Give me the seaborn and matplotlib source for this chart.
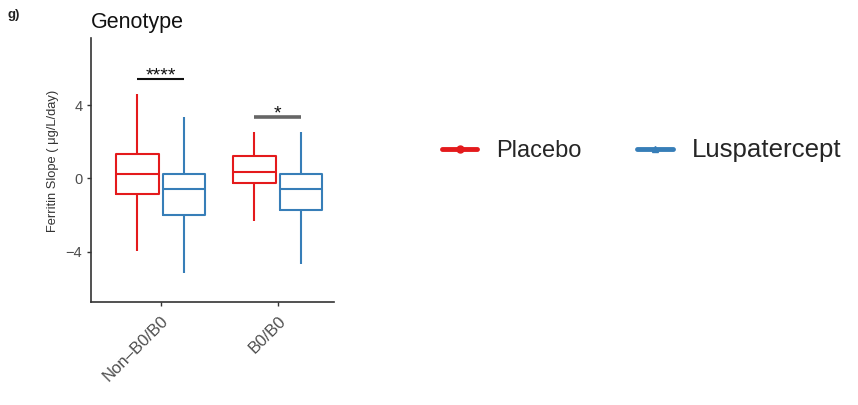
import numpy as np
import pandas as pd
import matplotlib
matplotlib.use("Agg")
import matplotlib.pyplot as plt
from matplotlib.lines import Line2D
import seaborn as sns

# Five-number summaries (whisker low, Q1, median, Q3, whisker high) of ferritin slope
genotypes = ["Non\u2013B0/B0", "B0/B0"]
treatments = ["Placebo", "Luspatercept"]

placebo_low = [-3.95, -2.31]
placebo_q1 = [-0.87, -0.24]
placebo_median = [0.23, 0.33]
placebo_q3 = [1.31, 1.22]
placebo_high = [4.58, 2.51]

lusp_low = [-5.18, -4.68]
lusp_q1 = [-2.02, -1.73]
lusp_median = [-0.58, -0.58]
lusp_q3 = [0.23, 0.25]
lusp_high = [3.36, 2.51]

# significance brackets: label, bracket height
sig_labels = ["****", "*"]
sig_heights = [5.44, 3.34]

y_ticks = [-4, 0, 4]

colors = {"Placebo": "#E41A1C", "Luspatercept": "#377EB8"}

rows = []
summaries = {
    "Placebo": [placebo_low, placebo_q1, placebo_median, placebo_q3, placebo_high],
    "Luspatercept": [lusp_low, lusp_q1, lusp_median, lusp_q3, lusp_high],
}
for trt in treatments:
    for gi, g in enumerate(genotypes):
        for stat in summaries[trt]:
            rows.append({"genotype": g, "treatment": trt, "slope": stat[gi]})
df = pd.DataFrame(rows)

sns.set_theme(style="white")
plt.rcParams["font.family"] = ["Liberation Sans", "DejaVu Sans"]

fig = plt.figure(figsize=(8.58, 4.05), dpi=100)
ax = fig.add_axes([0.1057, 0.2536, 0.2836, 0.6518])

sns.boxplot(
    data=df, x="genotype", y="slope", hue="treatment",
    order=genotypes, hue_order=treatments, palette=colors,
    fill=False, width=0.8, gap=0.1, whis=(0, 100),
    showcaps=False, linewidth=1.5, legend=False, ax=ax,
)

# significance brackets
sig_colors = ["#111111", "#666666"]
sig_widths = [1.5, 2.6]
for gi, (lab, h) in enumerate(zip(sig_labels, sig_heights)):
    ax.plot([gi - 0.2, gi + 0.2], [h, h], color=sig_colors[gi],
            lw=sig_widths[gi], solid_capstyle="butt")
    ax.text(gi, h - 0.08, lab, ha="center", va="baseline",
            fontsize=14, color="#111111")

ax.set_xlim(-0.6, 1.48)
ax.set_ylim(-6.76, 7.64)
ax.set_yticks(y_ticks)
ax.set_yticklabels([f"{t:d}".replace("-", "\u2212") for t in y_ticks])
ax.set_xlabel("")
ax.set_ylabel("Ferritin Slope ( \u03bcg/L/day)", fontsize=9.3, color="#333333")
ax.yaxis.set_label_coords(-0.13, 0.535)

for side in ["top", "right"]:
    ax.spines[side].set_visible(False)
for side in ["left", "bottom"]:
    ax.spines[side].set_color("#333333")
    ax.spines[side].set_linewidth(1.2)

ax.tick_params(axis="both", which="both", length=3, width=1, color="#333333",
               labelsize=10.5, labelcolor="#4D4D4D", pad=3, left=True, bottom=True)
ax.tick_params(axis="x", labelsize=12, pad=5)
plt.setp(ax.get_xticklabels(), rotation=45, ha="right", va="top",
         rotation_mode="anchor")

fig.text(91 / 858, 1 - 28 / 405, "Genotype", fontsize=15.5, va="baseline",
         ha="left", color="#111111")
fig.text(7 / 858, 1 - 18 / 405, "g)", fontsize=9.5, fontweight="bold",
         va="baseline", ha="left", color="#222222")

handles = [
    Line2D([], [], color=colors["Placebo"], lw=3.5, marker="o", markersize=5),
    Line2D([], [], color=colors["Luspatercept"], lw=3.5, marker="^", markersize=5),
]
leg = fig.legend(handles, treatments, loc="center left",
                 bbox_to_anchor=(442 / 858, 1 - 150 / 405), ncol=2, frameon=False,
                 fontsize=17, handlelength=1.5, handletextpad=0.8, columnspacing=2.35,
                 borderpad=0, borderaxespad=0)
leg.get_texts()[1].set_fontsize(18.6)

fig.savefig("out.png", dpi=100, facecolor="white")
